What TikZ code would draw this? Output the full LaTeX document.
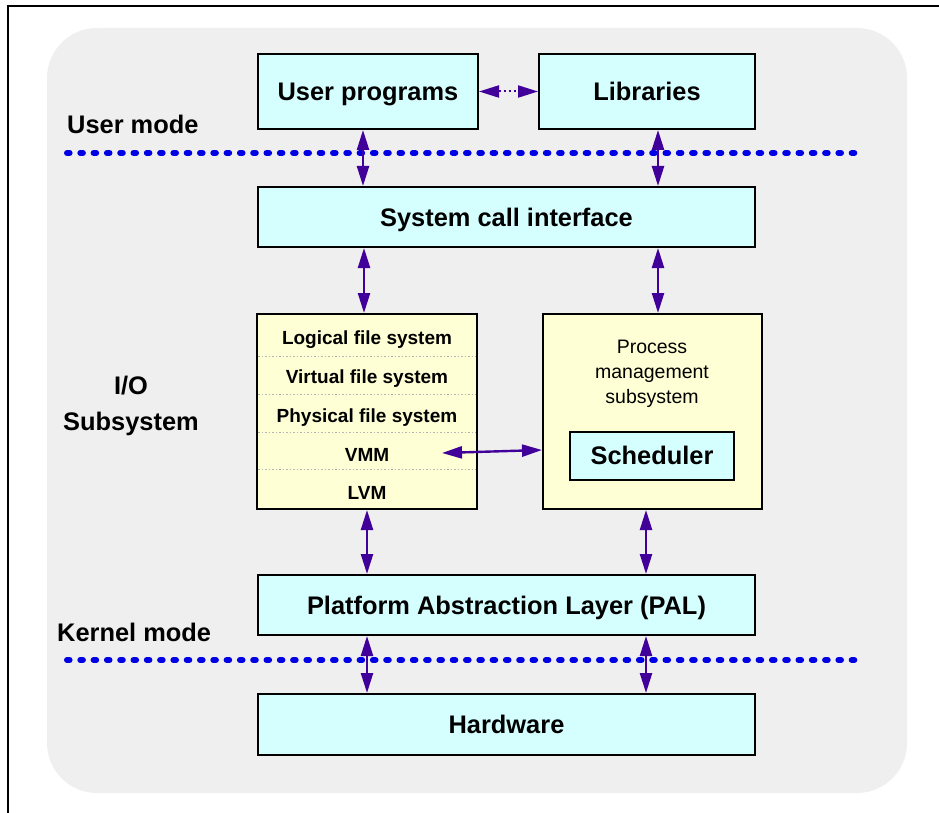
\documentclass[tikz,border=0pt]{standalone}
\usepackage{fontspec}
\setmainfont{Liberation Sans}
\usetikzlibrary{arrows.meta}
\definecolor{bggray}{RGB}{239,239,239}
\definecolor{boxcyan}{RGB}{213,255,255}
\definecolor{boxyellow}{RGB}{255,255,213}
\definecolor{arrowpurple}{RGB}{64,0,153}
\definecolor{modeblue}{RGB}{0,0,228}
\definecolor{divgray}{RGB}{180,180,180}
\begin{document}
\begin{tikzpicture}[x=1pt,y=-1pt,
  box/.style={draw=black, line width=2pt, inner sep=0pt, anchor=center},
  cyanbox/.style={box, fill=boxcyan, font=\fontsize{25.4}{30}\selectfont\bfseries, text height=18.2pt, text depth=0pt},
  yellowbox/.style={box, fill=boxyellow},
  rowtext/.style={inner sep=0pt, font=\fontsize{19}{23}\selectfont\bfseries, text height=13.6pt, text depth=0pt},
  modelbl/.style={inner sep=0pt, anchor=base west, font=\fontsize{25.4}{30}\selectfont\bfseries},
  modeline/.style={draw=modeblue, line width=6pt, line cap=round, dash pattern=on 2.6pt off 10.7pt},
  arr/.style={draw=arrowpurple, line width=2.4pt, {Triangle[length=20pt,width=12pt]}-{Triangle[length=20pt,width=12pt]}},
  dotarr/.style={draw=arrowpurple, line width=2pt, dash pattern=on 2pt off 3pt, {Triangle[length=20pt,width=12pt]}-{Triangle[length=20pt,width=12pt]}},
  divline/.style={draw=divgray, line width=1pt, dash pattern=on 1.5pt off 2pt}
]
\useasboundingbox (0,0) rectangle (939,813);
% outer frame (top and left edges)
\draw[line width=1.5pt] (8,813) -- (8,6) -- (939,6);
% grey background
\fill[bggray, rounded corners=50pt] (47,28) rectangle (907,793);

% mode separators
\coordinate (um1) at (67,153);
\coordinate (um2) at (862,153);
\coordinate (km1) at (67,660);
\coordinate (km2) at (862,660);
\draw[modeline] (um1) -- (um2);
\draw[modeline] (km1) -- (km2);

% labels
\node[modelbl] (usermode) at (67,134) {User mode};
\node[modelbl] (kernelmode) at (57,641) {Kernel mode};
\node[inner sep=0pt, anchor=base, font=\fontsize{25.4}{30}\selectfont\bfseries] (io1) at (131,394) {I/O};
\node[inner sep=0pt, anchor=base, font=\fontsize{25.4}{30}\selectfont\bfseries] (io2) at (131,430) {Subsystem};

% boxes
\node[cyanbox, minimum width=220pt, minimum height=75pt] (up) at (368,91.5) {User programs};
\node[cyanbox, minimum width=216pt, minimum height=75pt] (lib) at (647,91.5) {Libraries};
\node[cyanbox, minimum width=497pt, minimum height=60pt] (sci) at (506.5,217) {System call interface};
\node[yellowbox, minimum width=220pt, minimum height=195pt] (io) at (367,411.5) {};
\node[yellowbox, minimum width=219pt, minimum height=195pt] (pm) at (652.5,411.5) {};
\node[cyanbox, minimum width=164pt, minimum height=48pt] (sched) at (652,455.5) {Scheduler};
\node[cyanbox, minimum width=497pt, minimum height=60pt] (pal) at (506.5,605) {Platform Abstraction Layer (PAL)};
\node[cyanbox, minimum width=497pt, minimum height=61pt] (hw) at (506.5,724.5) {Hardware};

% process management text
\node[inner sep=0pt, align=center, font=\fontsize{19.5}{25}\selectfont] (pmtext) at (652,373.5) {Process\\management\\subsystem};

% I/O rows
\coordinate (d1a) at (258,356); \coordinate (d1b) at (476,356);
\coordinate (d2a) at (258,394); \coordinate (d2b) at (476,394);
\coordinate (d3a) at (258,432); \coordinate (d3b) at (476,432);
\coordinate (d4a) at (258,469); \coordinate (d4b) at (476,469);
\draw[divline] (d1a) -- (d1b);
\draw[divline] (d2a) -- (d2b);
\draw[divline] (d3a) -- (d3b);
\draw[divline] (d4a) -- (d4b);
\node[rowtext] (lfs) at (367,337.5) {Logical file system};
\node[rowtext] (vfs) at (367,377) {Virtual file system};
\node[rowtext] (pfs) at (367,416) {Physical file system};
\node[rowtext] (vmm) at (367,455) {VMM};
\node[rowtext] (lvm) at (367,493) {LVM};

% connectors
\draw[dotarr] (up.east) -- (lib.west);
\draw[arr] ([xshift=-5pt]up.south) -- ([xshift=-5pt]up.south |- sci.north);
\draw[arr] ([xshift=11pt]lib.south) -- ([xshift=11pt]lib.south |- sci.north);
\draw[arr] ([xshift=-3pt]io.north |- sci.south) -- ([xshift=-3pt]io.north);
\draw[arr] ([xshift=5.5pt]pm.north |- sci.south) -- ([xshift=5.5pt]pm.north);
\draw[arr] (io.south) -- (io.south |- pal.north);
\draw[arr] ([xshift=-6.5pt]pm.south) -- ([xshift=-6.5pt]pm.south |- pal.north);
\draw[arr] (io.south |- pal.south) -- (io.south |- hw.north);
\draw[arr] ([xshift=-6.5pt]pm.south |- pal.south) -- ([xshift=-6.5pt]pm.south |- hw.north);
\coordinate (vmmend) at (442,453);
\draw[arr] (vmmend) -- ([yshift=-38.5pt]pm.west);
\end{tikzpicture}
\end{document}
